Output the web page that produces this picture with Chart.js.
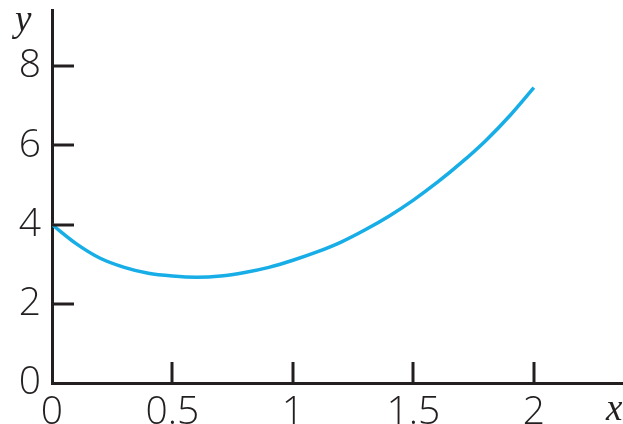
<!DOCTYPE html>
<html>
<head>
<meta charset="utf-8">
<script src="https://cdn.jsdelivr.net/npm/chart.js@4.4.1/dist/chart.umd.min.js"></script>
<style>
    html, body { margin: 0; padding: 0; background: #fff; }
    #wrap { width: 623px; height: 424px; position: relative; }
</style>
</head>
<body>
<div id="wrap"><canvas id="chart"></canvas></div>
<script>
// Values
const xValues = [0, 0.1, 0.2, 0.3, 0.4, 0.5, 0.6, 0.7, 0.8, 0.9, 1.0,
                 1.1, 1.2, 1.3, 1.4, 1.5, 1.6, 1.7, 1.8, 1.9, 2.0];
const yValues = [4.0, 3.52, 3.15, 2.92, 2.77, 2.70, 2.67, 2.70, 2.79, 2.92, 3.10,
                 3.31, 3.56, 3.87, 4.22, 4.62, 5.07, 5.57, 6.12, 6.75, 7.46];
const xTicks = [0, 0.5, 1, 1.5, 2];
const yTicks = [0, 2, 4, 6, 8];

const inkColor = '#231f20';
const curveColor = '#17ade6';
const tickFont = { family: '"Open Sans", "Liberation Sans", sans-serif', size: 39, weight: 300, lineHeight: 1 };

// inward tick marks plus the italic axis names
const axisExtras = {
    id: 'axisExtras',
    afterDraw(chart) {
        const ctx = chart.ctx;
        const xs = chart.scales.x;
        const ys = chart.scales.y;
        const area = chart.chartArea;
        ctx.save();
        ctx.strokeStyle = inkColor;
        ctx.lineWidth = 3;
        xTicks.forEach(v => {
            if (v === 0) return;
            const px = Math.round(xs.getPixelForValue(v));
            ctx.beginPath();
            ctx.moveTo(px, area.bottom);
            ctx.lineTo(px, area.bottom - 21);
            ctx.stroke();
        });
        yTicks.forEach(v => {
            if (v === 0) return;
            const py = Math.round(ys.getPixelForValue(v));
            ctx.beginPath();
            ctx.moveTo(area.left, py);
            ctx.lineTo(area.left + 22, py);
            ctx.stroke();
        });
        ctx.fillStyle = inkColor;
        ctx.font = 'italic 37px "Liberation Serif", "Times New Roman", serif';
        ctx.textBaseline = 'alphabetic';
        ctx.textAlign = 'left';
        ctx.fillText('y', 15, 31);
        ctx.fillText('x', 606, 420);
        ctx.restore();
    }
};

const ctx = document.getElementById('chart').getContext('2d');
new Chart(ctx, {
    type: 'line',
    data: {
        datasets: [{
            data: xValues.map((x, i) => ({ x: x, y: yValues[i] })),
            borderColor: curveColor,
            borderWidth: 3.5,
            pointRadius: 0,
            fill: false,
            tension: 0.4,
            cubicInterpolationMode: 'monotone'
        }]
    },
    options: {
        responsive: true,
        maintainAspectRatio: false,
        animation: false,
        layout: { padding: { top: 10, right: 0, left: 0, bottom: 0 } },
        plugins: {
            legend: { display: false },
            tooltip: { enabled: false }
        },
        scales: {
            x: {
                type: 'linear',
                min: 0,
                max: 2.37,
                grid: { display: false, drawTicks: false },
                border: { display: true, color: inkColor, width: 3 },
                afterBuildTicks: (scale) => { scale.ticks = xTicks.map(v => ({ value: v })); },
                afterFit: (scale) => {
                    scale.height = 41;
                    scale.paddingLeft = 0;
                    scale.paddingRight = 0;
                },
                ticks: {
                    color: inkColor,
                    font: tickFont,
                    padding: 10,
                    maxRotation: 0,
                    callback: (v) => String(v)
                }
            },
            y: {
                type: 'linear',
                min: 0,
                max: 9.42,
                grid: { display: false, drawTicks: false },
                border: { display: true, color: inkColor, width: 3 },
                afterBuildTicks: (scale) => { scale.ticks = yTicks.map(v => ({ value: v })); },
                afterFit: (scale) => {
                    scale.width = 52;
                    scale.paddingTop = 0;
                    scale.paddingBottom = 0;
                },
                ticks: {
                    color: inkColor,
                    font: tickFont,
                    padding: 11,
                    callback: (v) => String(v)
                }
            }
        }
    },
    plugins: [axisExtras]
});
</script>
</body>
</html>
